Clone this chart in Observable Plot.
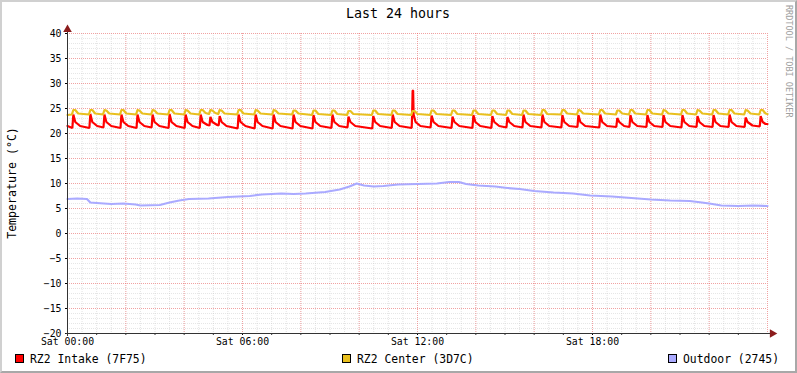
<!DOCTYPE html>
<html><head><meta charset="utf-8">
<script src="https://cdn.jsdelivr.net/npm/d3@7"></script>
<script src="https://cdn.jsdelivr.net/npm/@observablehq/plot@0.6"></script>
<style>
body{margin:0;background:#fff;}
#wrap{position:relative;width:797px;height:373px;overflow:hidden;background:#fff;}
#wrap svg{position:absolute;left:0;top:0;}
#frame{position:absolute;left:0;top:0;width:797px;height:373px;box-sizing:border-box;border:2px solid;border-color:#d0d0d0 #a8a8a8 #a8a8a8 #d0d0d0;pointer-events:none;}
</style></head><body>
<div id="wrap"><div id="frame"></div></div>
<script>
// ---- data (minutes since Sat 00:00, °C) ----
const titleText = "Last 24 hours";
const yLabel = "Temperature (°C)";
const sideText = "RRDTOOL / TOBI OETIKER";
const seriesNames = ["RZ2 Intake (7F75)", "RZ2 Center (3D7C)", "Outdoor (2745)"];
const seriesColors = ["#ff0000", "#e9c01e", "#aaaaff"];
const xTickValues = [0, 360, 720, 1080];
const xTickLabels = ["Sat 00:00", "Sat 06:00", "Sat 12:00", "Sat 18:00"];
const yTickValues = [-20, -15, -10, -5, 0, 5, 10, 15, 20, 25, 30, 35, 40];
const xDomain = [0, 1440];
const yDomain = [-20, 40];

const intake = [
[0,21.5],[10,21.1],[12,23.8],[16,22.3],[26,21.5],
[45,21.1],[47,23.9],[51,22.3],[61,21.5],
[74,21.2],[76,23.8],[80,22.3],[90,21.5],
[109,21.1],[111,23.8],[115,22.3],[125,21.5],
[142,21.1],[144,23.8],[148,22.3],[158,21.5],
[173,21.2],[175,23.8],[179,22.3],[189,21.5],
[208,21.1],[210,23.9],[214,22.3],[224,21.5],
[241,21.1],[243,23.8],[247,22.3],[257,21.5],
[272,21.1],[274,23.8],[278,22.3],[288,21.7],
[292,21.6],[294,23.3],[298,22.3],[308,21.7],
[311,21.6],[313,23.5],[317,22.3],[327,21.5],
[350,21.0],[352,23.8],[356,22.3],[366,21.5],
[385,21.0],[387,23.8],[391,22.3],[401,21.5],
[422,21.0],[424,23.8],[428,22.3],[438,21.5],
[463,21.0],[465,23.8],[469,22.3],[479,21.5],
[504,21.0],[506,23.7],[510,22.3],[520,21.5],
[543,21.1],[545,23.8],[549,22.3],[559,21.5],
[576,21.2],[578,23.4],[582,22.3],[592,21.5],
[627,21.0],[629,23.5],[633,22.3],[643,21.5],
[667,21.1],[669,23.8],[673,22.3],[683,21.5],
[708,21.1],[709,23.8],[710,28.6],[711,28.6],[712,23.8],[716,22.3],[726,21.5],
[747,21.2],[749,23.6],[753,22.3],[763,21.5],
[790,21.1],[792,23.4],[796,22.3],[806,21.5],
[833,21.1],[835,23.7],[839,22.3],[849,21.5],
[872,21.1],[874,23.5],[878,22.3],[888,21.5],
[903,21.2],[905,23.3],[909,22.3],[919,21.5],
[936,21.2],[938,23.8],[942,22.3],[952,21.5],
[975,21.2],[977,23.8],[981,22.3],[991,21.5],
[1016,21.2],[1018,23.7],[1022,22.3],[1032,21.5],
[1049,21.3],[1051,23.7],[1055,22.3],[1065,21.5],
[1094,21.2],[1096,23.8],[1100,22.3],[1110,21.5],
[1129,21.3],[1131,23.1],[1135,22.3],[1145,21.5],
[1156,21.3],[1158,23.7],[1162,22.3],[1172,21.5],
[1191,21.3],[1193,23.7],[1197,22.3],[1207,21.5],
[1224,21.3],[1226,23.7],[1230,22.3],[1240,21.5],
[1263,21.2],[1265,23.7],[1269,22.3],[1279,21.5],
[1294,21.3],[1296,23.5],[1300,22.3],[1310,21.5],
[1327,21.3],[1329,23.7],[1333,22.3],[1343,21.5],
[1360,21.3],[1362,23.8],[1366,22.3],[1376,21.5],
[1393,21.3],[1395,23.2],[1399,22.3],[1409,21.6],
[1424,21.4],[1426,23.5],[1430,22.3],[1436,21.9],[1440,21.9]
];

const center = [
[0,23.7],[9,23.8],[12,24.7],[16,24.7],[22,24.0],
[44,23.8],[47,24.7],[51,24.7],[57,24.0],
[73,23.8],[76,24.7],[80,24.6],[86,24.0],
[108,23.8],[111,24.7],[115,24.7],[121,24.0],
[141,23.8],[144,24.7],[148,24.6],[154,24.0],
[172,23.8],[175,24.7],[179,24.6],[185,24.0],
[207,23.8],[210,24.7],[214,24.7],[220,24.0],
[240,23.8],[243,24.7],[247,24.6],[253,24.0],
[271,23.8],[274,24.7],[278,24.7],[284,24.1],
[291,23.9],[294,24.7],[298,24.6],[304,24.1],
[310,23.9],[313,24.7],[317,24.6],[323,24.0],
[349,23.8],[352,24.7],[356,24.7],[362,24.0],
[384,23.8],[387,24.7],[391,24.6],[397,24.0],
[421,23.8],[424,24.7],[428,24.6],[434,24.0],
[462,23.8],[465,24.6],[469,24.6],[475,24.0],
[503,23.7],[506,24.6],[510,24.6],[516,23.9],
[542,23.7],[545,24.6],[549,24.6],[555,23.9],
[575,23.7],[578,24.5],[582,24.5],[588,23.9],
[626,23.7],[629,24.6],[633,24.6],[639,23.9],
[666,23.7],[669,24.6],[673,24.6],[679,23.9],
[707,23.7],[710,24.5],[714,24.5],[720,23.9],
[746,23.7],[749,24.6],[753,24.6],[759,23.9],
[789,23.7],[792,24.6],[796,24.6],[802,23.9],
[832,23.7],[835,24.6],[839,24.6],[845,23.9],
[871,23.7],[874,24.6],[878,24.6],[884,23.9],
[902,23.7],[905,24.6],[909,24.6],[915,23.9],
[935,23.7],[938,24.6],[942,24.6],[948,23.9],
[974,23.7],[977,24.7],[981,24.7],[987,23.9],
[1015,23.8],[1018,24.7],[1022,24.7],[1028,24.0],
[1048,23.8],[1051,24.7],[1055,24.6],[1061,24.0],
[1093,23.8],[1096,24.7],[1100,24.7],[1106,24.0],
[1128,23.8],[1131,24.6],[1135,24.6],[1141,24.0],
[1155,23.8],[1158,24.7],[1162,24.7],[1168,24.0],
[1190,23.8],[1193,24.7],[1197,24.7],[1203,24.0],
[1223,23.8],[1226,24.7],[1230,24.6],[1236,24.0],
[1262,23.8],[1265,24.7],[1269,24.7],[1275,24.0],
[1293,23.8],[1296,24.7],[1300,24.6],[1306,24.0],
[1326,23.8],[1329,24.7],[1333,24.7],[1339,24.0],
[1359,23.8],[1362,24.7],[1366,24.7],[1372,24.0],
[1392,23.8],[1395,24.7],[1399,24.6],[1405,24.0],
[1423,23.8],[1426,24.7],[1430,24.7],[1436,24.0],[1440,23.9]
];

const outdoor = [
[0,6.9],[20,7.0],[40,6.9],[47,6.2],[60,6.1],[75,6.0],[90,5.9],[115,6.0],[140,5.8],[150,5.6],
[190,5.7],[210,6.2],[230,6.6],[250,6.9],[290,7.0],[330,7.3],[375,7.5],[400,7.8],[440,8.0],
[465,7.9],[490,8.0],[530,8.3],[560,8.8],[580,9.4],[595,10.0],[610,9.6],[630,9.4],[650,9.5],
[680,9.8],[720,9.9],[760,10.0],[785,10.3],[805,10.3],[820,9.9],[845,9.6],[880,9.4],[905,9.1],
[930,8.9],[960,8.5],[1000,8.2],[1040,8.0],[1075,7.6],[1120,7.4],[1160,7.1],[1200,6.8],
[1240,6.6],[1280,6.5],[1305,6.2],[1320,6.0],[1345,5.6],[1380,5.5],[1410,5.6],[1440,5.5]
];

// ---- grid helpers ----
const minorX = d3.range(xDomain[0], xDomain[1] + 1, 30);
const majorX = d3.range(xDomain[0], xDomain[1] + 1, 120);
const hourX = d3.range(xDomain[0], xDomain[1], 60);
const minorY = d3.range(yDomain[0], yDomain[1] + 1, 1);
const majorY = d3.range(yDomain[0], yDomain[1] + 1, 5);
const FONT = "DejaVu Sans Mono";
const X = d => d[0], Y = d => d[1];

const plot = Plot.plot({
  width: 797, height: 373,
  marginLeft: 67, marginRight: 30, marginTop: 33, marginBottom: 40,
  style: {fontFamily: FONT, fontSize: "9.8px", background: "transparent", color: "#000", overflow: "visible"},
  x: {domain: xDomain, type: "linear"},
  y: {domain: yDomain},
  marks: [
    Plot.ruleX(minorX, {stroke: "#c8c8c8", strokeOpacity: 0.5, strokeDasharray: "1,1"}),
    Plot.ruleY(minorY, {stroke: "#c8c8c8", strokeOpacity: 0.45, strokeDasharray: "1,1"}),
    Plot.ruleX(majorX, {stroke: "#ff5050", strokeOpacity: 0.45, strokeDasharray: "1,1"}),
    Plot.ruleY(majorY, {stroke: "#ff5050", strokeOpacity: 0.45, strokeDasharray: "1,1"}),
    Plot.line(intake, {x: X, y: Y, stroke: seriesColors[0], strokeWidth: 2.2, strokeLinejoin: "miter"}),
    Plot.line(center, {x: X, y: Y, stroke: seriesColors[1], strokeWidth: 2.2}),
    Plot.line(outdoor, {x: X, y: Y, stroke: seriesColors[2], strokeWidth: 2.2}),
    Plot.axisX({ticks: hourX, tickFormat: () => "", tickSize: 2, stroke: "#333"}),
    Plot.axisX({ticks: xTickValues, tickFormat: (d, i) => xTickLabels[i], tickSize: 2, tickPadding: 3, fontSize: "9.8px", fill: "#000"}),
    Plot.axisY({ticks: yTickValues, tickSize: 2, tickPadding: 4, fontSize: "9.8px", fill: "#000"}),
    Plot.ruleX([xDomain[0]], {y1: yDomain[0] - 0.6, y2: yDomain[1] + 0.6, stroke: "#333"}),
    Plot.ruleY([yDomain[0]], {x1: xDomain[0] - 3, x2: xDomain[1] + 9, stroke: "#333"}),
    Plot.dot([[xDomain[0], yDomain[1] + 0.8]], {x: X, y: Y, symbol: "triangle", r: 3.2, fill: "#8b1c1c", stroke: "none"}),
    Plot.dot([[xDomain[1] + 10, yDomain[0]]], {x: X, y: Y, symbol: "triangle", r: 3.2, fill: "#8b1c1c", stroke: "none", rotate: 90})
  ]
});
document.getElementById("wrap").insertBefore(plot, document.getElementById("frame"));

const svg = d3.select(plot);
svg.append("text").attr("x", 398).attr("y", 18).attr("text-anchor", "middle")
  .attr("font-family", FONT).attr("font-size", "13.3px").attr("fill", "#000").text(titleText);
svg.append("text").attr("transform", "translate(15.5,183) rotate(-90)").attr("text-anchor", "middle")
  .attr("font-family", FONT).attr("font-size", "11.6px").attr("fill", "#000").text(yLabel);
svg.append("text").attr("transform", "translate(786,5) rotate(90)").attr("text-anchor", "start")
  .attr("font-family", FONT).attr("font-size", "8.5px").attr("fill", "#a0a0a0").text(sideText);
const legendX = [15, 342, 668];
seriesNames.forEach((name, i) => {
  svg.append("rect").attr("x", legendX[i] + 0.5).attr("y", 354.5).attr("width", 8).attr("height", 8)
    .attr("fill", seriesColors[i]).attr("stroke", "#000").attr("stroke-width", 1);
  svg.append("text").attr("x", legendX[i] + 15).attr("y", 362.5).attr("text-anchor", "start")
    .attr("font-family", FONT).attr("font-size", "11.4px").attr("fill", "#000").text(name);
});
</script>
</body></html>
